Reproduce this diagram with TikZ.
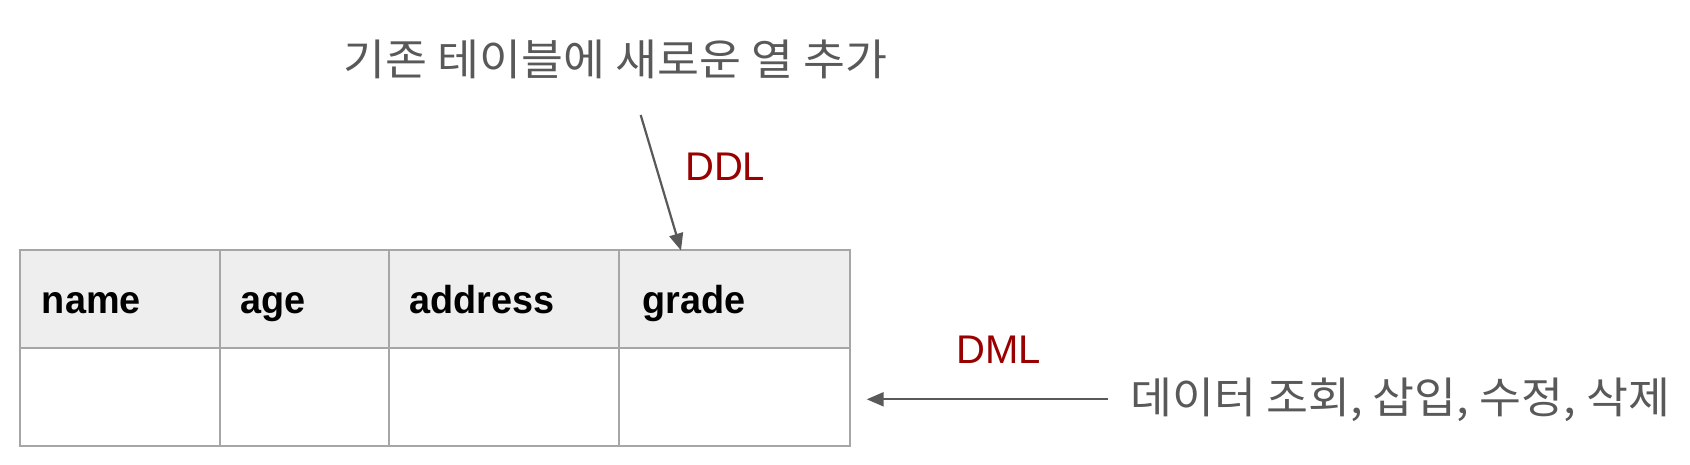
\documentclass[tikz,border=0pt]{standalone}
\usepackage{fontspec}
\setmainfont{Liberation Sans}
\newfontfamily\kr{Noto Sans CJK KR}
\usetikzlibrary{arrows.meta}
\definecolor{txtgray}{HTML}{595959}
\definecolor{ddlred}{HTML}{990000}
\definecolor{gridc}{HTML}{A6A6A6}
\definecolor{hdr}{HTML}{EEEEEE}
\begin{document}
\begin{tikzpicture}[x=1pt,y=-1pt,
  cellbox/.style={draw=gridc, line width=2pt, inner sep=0pt, outer sep=0pt, anchor=north west, minimum height=97.5pt},
  hdrbox/.style={cellbox, fill=hdr},
  hdrtext/.style={anchor=base west, inner sep=0pt, font=\fontsize{39}{46}\selectfont\bfseries, xscale=0.97, transform shape},
  krtext/.style={anchor=west, inner sep=0pt, text=txtgray, font=\fontsize{43}{50}\selectfont\kr, xscale=1.06, transform shape},
  redtext/.style={anchor=base west, inner sep=0pt, text=ddlred, font=\fontsize{40}{46}\selectfont},
  conn/.style={draw=txtgray, line width=2.2pt, -{Triangle[length=17pt,width=14pt]}}]
\useasboundingbox[fill=white] (0,0) rectangle (1690,465);
% table
\node[hdrbox, minimum width=200.9pt] (h1) at (19.5,250.5) {};
\node[hdrbox, minimum width=168.1pt] (h2) at (220.4,250.5) {};
\node[hdrbox, minimum width=230.4pt] (h3) at (388.5,250.5) {};
\node[hdrbox, minimum width=231.1pt] (h4) at (618.9,250.5) {};
\node[cellbox, minimum width=200.9pt] (b1) at (19.5,348) {};
\node[cellbox, minimum width=168.1pt] (b2) at (220.4,348) {};
\node[cellbox, minimum width=230.4pt] (b3) at (388.5,348) {};
\node[cellbox, minimum width=231.1pt] (b4) at (618.9,348) {};
\node[hdrtext] (t1) at (41.7,313.3) {name};
\node[hdrtext] (t2) at (240.5,313.3) {age};
\node[hdrtext] (t3) at (409.5,313.3) {address};
\node[hdrtext] (t4) at (642,313.3) {grade};
% labels
\node[krtext] (top) at (343,59.5) {기존 테이블에 새로운 열 추가};
\node[redtext] (ddl) at (685,180.7) {DDL};
\node[redtext] (dml) at (956,363) {DML};
\node[krtext] (ops) at (1130,400) {데이터 조회, 삽입, 수정, 삭제};
% connectors
\coordinate (ddlS) at (640.7,115);
\coordinate (ddlE) at (681,250.5);
\coordinate (dmlS) at (1108,399.3);
\coordinate (dmlE) at (866.7,399.3);
\draw[conn] (ddlS) -- (ddlE);
\draw[conn] (dmlS) -- (dmlE);
\end{tikzpicture}
\end{document}
